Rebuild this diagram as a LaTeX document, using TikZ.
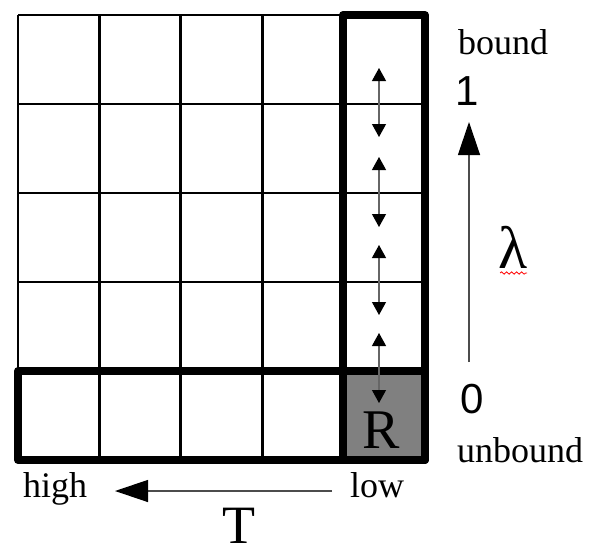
\documentclass[tikz,border=0pt]{standalone}
\usepackage{fontspec}
\setmainfont{Liberation Serif}
\newfontfamily\numfont{Liberation Sans}
\usetikzlibrary{arrows.meta,decorations.pathmorphing}
\tikzset{
  gridline/.style={line width=2.8pt, black},
  thickbox/.style={line width=8pt, black, line join=round},
  smallarrow/.style={line width=1.2pt, draw=black!60, {Triangle[width=14pt,length=13pt,black]}-{Triangle[width=14pt,length=13pt,black]}},
  bigarrow/.style={line width=1.3pt, draw=black!70, -{Triangle[width=22pt,length=33pt,black]}},
  word/.style={inner sep=0pt, font=\fontsize{36}{40}\selectfont},
  digit/.style={inner sep=0pt, font=\numfont\fontsize{42}{46}\selectfont},
}
\begin{document}
\begin{tikzpicture}[x=1pt,y=-1pt]
\useasboundingbox (0,0) rectangle (600,552);
% gray R cell
\fill[black!50] (343,371) rectangle (425,460);
% grid
\foreach \xx in {18,99.4,180.8,262.2,343.6,425}
  \draw[gridline] (\xx,15) -- (\xx,460);
\foreach \yy in {15,104,193,282,371,460}
  \draw[gridline] (18,\yy) -- (425,\yy);
% thick boxes
\draw[thickbox] (18,371) rectangle (425,460);
\draw[thickbox] (343,15) rectangle (425,460);
\node[inner sep=0pt, anchor=base, font=\fontsize{56}{60}\selectfont] (R) at (381,448) {R};
% small double arrows
\foreach \a/\b [count=\i] in {68/137,157/227,245/315,333/403}{
  \coordinate (s\i) at (379,\a);
  \coordinate (e\i) at (379,\b);
  \draw[smallarrow] (s\i) -- (e\i);
}
% lambda axis
\coordinate (lamfrom) at (469,362);
\coordinate (lamto) at (469,122);
\draw[bigarrow] (lamfrom) -- (lamto);
\node[word, anchor=base west] (bound) at (458,54) {bound};
\node[digit, anchor=base] (one) at (467,105) {1};
\node[digit, anchor=base] (zero) at (472.5,413) {0};
\node[word, anchor=base west] (unbound) at (457,462) {unbound};
\node[inner sep=0pt, anchor=base, font=\fontsize{60}{64}\selectfont] (lam) at (513.5,268) {λ};
\draw[red, line width=0.8pt, decorate, decoration={snake, amplitude=1.2pt, segment length=5pt}] (500,273) -- (527,273);
% T axis
\coordinate (Tfrom) at (332,491);
\coordinate (Tto) at (115,491);
\draw[bigarrow] (Tfrom) -- (Tto);
\node[word, anchor=base west] (high) at (23,497) {high};
\node[word, anchor=base west] (low) at (350,497) {low};
\node[inner sep=0pt, anchor=base, font=\fontsize{54}{58}\selectfont] (T) at (238.5,543) {T};
\end{tikzpicture}
\end{document}
